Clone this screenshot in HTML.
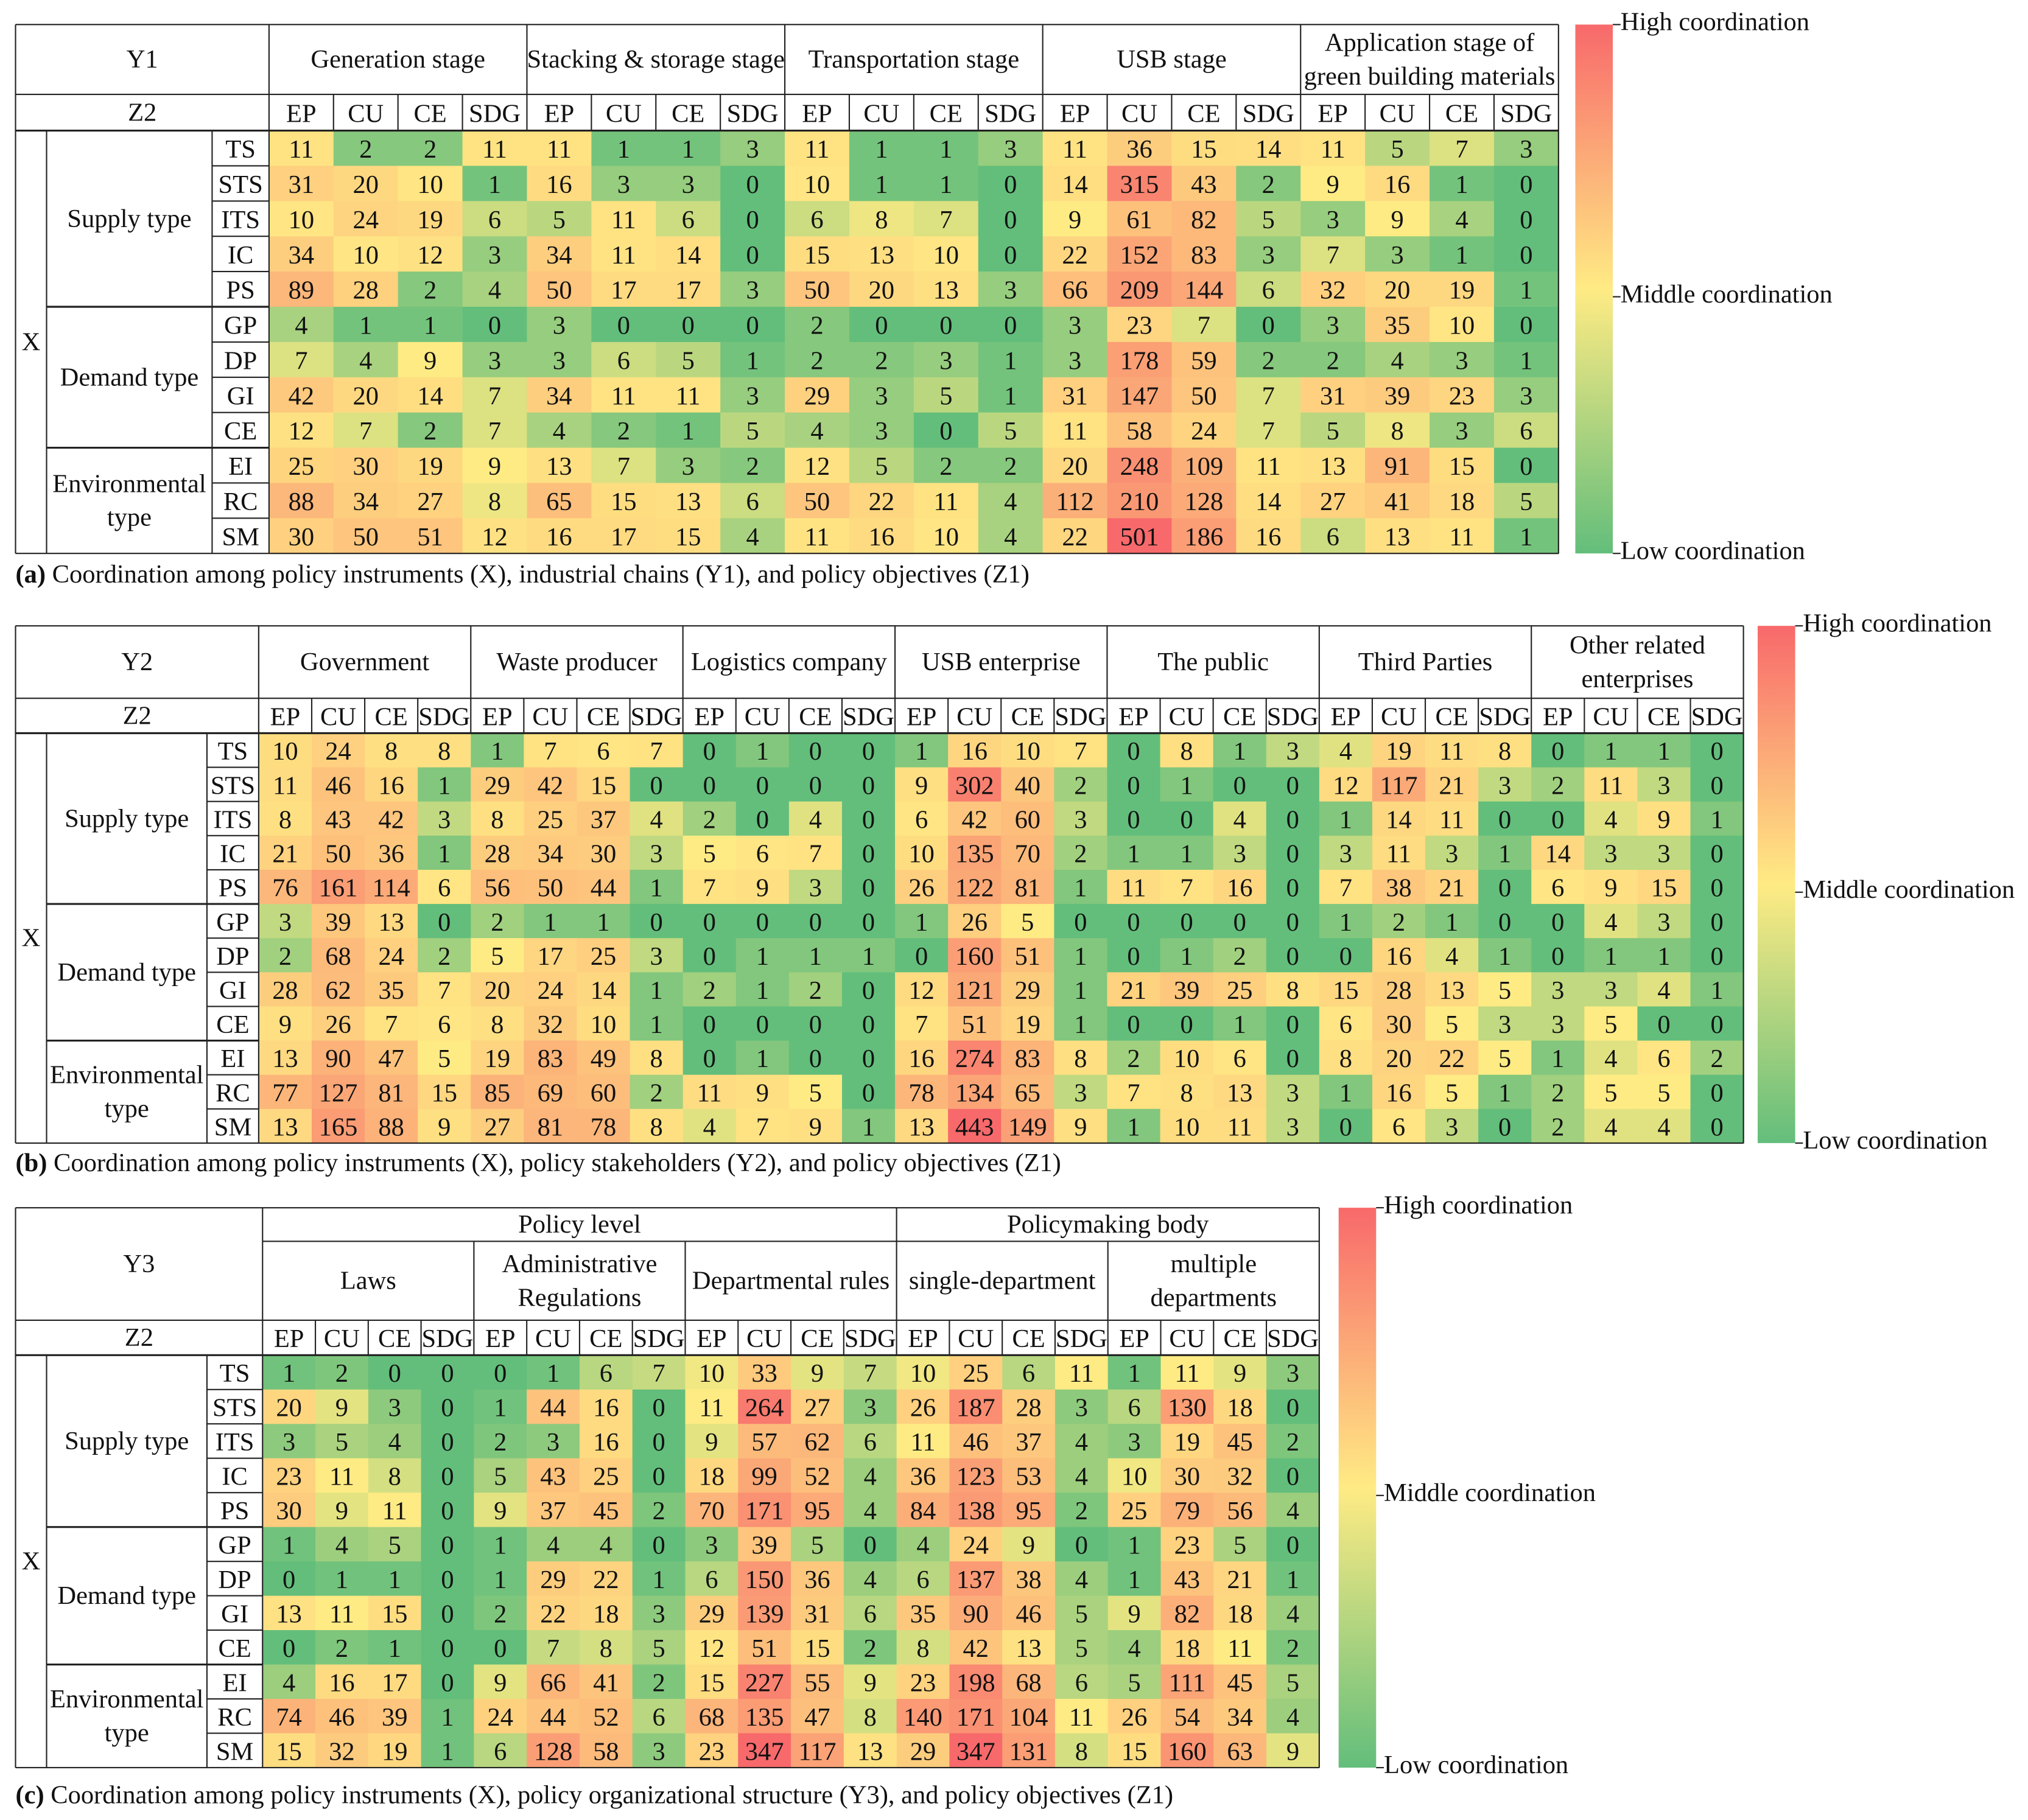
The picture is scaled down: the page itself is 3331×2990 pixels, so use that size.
<!DOCTYPE html>
<html><head><meta charset="utf-8"><style>
html,body{margin:0;padding:0;background:#fff;}
svg{display:block;}
text{font-family:"Liberation Serif","Times New Roman",serif;fill:#111;}
</style></head><body>
<svg id="chart" width="3331" height="2990" viewBox="0 0 1568 1407.5" xmlns="http://www.w3.org/2000/svg">
<defs>
<linearGradient id="lg" x1="0" y1="0" x2="0" y2="1">
<stop offset="0" stop-color="#f8696b"/><stop offset="0.5" stop-color="#ffeb84"/><stop offset="1" stop-color="#63be7b"/>
</linearGradient>
</defs>
</svg>
<script>
const rowCodes=["TS","STS","ITS","IC","PS","GP","DP","GI","CE","EI","RC","SM"];
const subCols=["EP","CU","CE","SDG"];
const rowGroups=[["Supply type"],["Demand type"],["Environmental","type"]];
const rowGroupSizes=[5,4,3];
const groupsA=[["Generation stage"],["Stacking & storage stage"],["Transportation stage"],["USB stage"],["Application stage of","green building materials"]];
const groupsB=[["Government"],["Waste producer"],["Logistics company"],["USB enterprise"],["The public"],["Third Parties"],["Other related","enterprises"]];
const groupsC=[["Laws"],["Administrative","Regulations"],["Departmental rules"],["single-department"],["multiple","departments"]];
const superC=[["Policy level",3],["Policymaking body",2]];
const valuesA=[
[11,2,2,11,11,1,1,3,11,1,1,3,11,36,15,14,11,5,7,3],
[31,20,10,1,16,3,3,0,10,1,1,0,14,315,43,2,9,16,1,0],
[10,24,19,6,5,11,6,0,6,8,7,0,9,61,82,5,3,9,4,0],
[34,10,12,3,34,11,14,0,15,13,10,0,22,152,83,3,7,3,1,0],
[89,28,2,4,50,17,17,3,50,20,13,3,66,209,144,6,32,20,19,1],
[4,1,1,0,3,0,0,0,2,0,0,0,3,23,7,0,3,35,10,0],
[7,4,9,3,3,6,5,1,2,2,3,1,3,178,59,2,2,4,3,1],
[42,20,14,7,34,11,11,3,29,3,5,1,31,147,50,7,31,39,23,3],
[12,7,2,7,4,2,1,5,4,3,0,5,11,58,24,7,5,8,3,6],
[25,30,19,9,13,7,3,2,12,5,2,2,20,248,109,11,13,91,15,0],
[88,34,27,8,65,15,13,6,50,22,11,4,112,210,128,14,27,41,18,5],
[30,50,51,12,16,17,15,4,11,16,10,4,22,501,186,16,6,13,11,1]];
const valuesB=[
[10,24,8,8,1,7,6,7,0,1,0,0,1,16,10,7,0,8,1,3,4,19,11,8,0,1,1,0],
[11,46,16,1,29,42,15,0,0,0,0,0,9,302,40,2,0,1,0,0,12,117,21,3,2,11,3,0],
[8,43,42,3,8,25,37,4,2,0,4,0,6,42,60,3,0,0,4,0,1,14,11,0,0,4,9,1],
[21,50,36,1,28,34,30,3,5,6,7,0,10,135,70,2,1,1,3,0,3,11,3,1,14,3,3,0],
[76,161,114,6,56,50,44,1,7,9,3,0,26,122,81,1,11,7,16,0,7,38,21,0,6,9,15,0],
[3,39,13,0,2,1,1,0,0,0,0,0,1,26,5,0,0,0,0,0,1,2,1,0,0,4,3,0],
[2,68,24,2,5,17,25,3,0,1,1,1,0,160,51,1,0,1,2,0,0,16,4,1,0,1,1,0],
[28,62,35,7,20,24,14,1,2,1,2,0,12,121,29,1,21,39,25,8,15,28,13,5,3,3,4,1],
[9,26,7,6,8,32,10,1,0,0,0,0,7,51,19,1,0,0,1,0,6,30,5,3,3,5,0,0],
[13,90,47,5,19,83,49,8,0,1,0,0,16,274,83,8,2,10,6,0,8,20,22,5,1,4,6,2],
[77,127,81,15,85,69,60,2,11,9,5,0,78,134,65,3,7,8,13,3,1,16,5,1,2,5,5,0],
[13,165,88,9,27,81,78,8,4,7,9,1,13,443,149,9,1,10,11,3,0,6,3,0,2,4,4,0]];
const valuesC=[
[1,2,0,0,0,1,6,7,10,33,9,7,10,25,6,11,1,11,9,3],
[20,9,3,0,1,44,16,0,11,264,27,3,26,187,28,3,6,130,18,0],
[3,5,4,0,2,3,16,0,9,57,62,6,11,46,37,4,3,19,45,2],
[23,11,8,0,5,43,25,0,18,99,52,4,36,123,53,4,10,30,32,0],
[30,9,11,0,9,37,45,2,70,171,95,4,84,138,95,2,25,79,56,4],
[1,4,5,0,1,4,4,0,3,39,5,0,4,24,9,0,1,23,5,0],
[0,1,1,0,1,29,22,1,6,150,36,4,6,137,38,4,1,43,21,1],
[13,11,15,0,2,22,18,3,29,139,31,6,35,90,46,5,9,82,18,4],
[0,2,1,0,0,7,8,5,12,51,15,2,8,42,13,5,4,18,11,2],
[4,16,17,0,9,66,41,2,15,227,55,9,23,198,68,6,5,111,45,5],
[74,46,39,1,24,44,52,6,68,135,47,8,140,171,104,11,26,54,34,4],
[15,32,19,1,6,128,58,3,23,347,117,13,29,347,131,8,15,160,63,9]];

const svg=document.getElementById('chart');
const NS="http://www.w3.org/2000/svg";
function mk(tag,attrs,parent){const e=document.createElementNS(NS,tag);for(const k in attrs)e.setAttribute(k,attrs[k]);(parent||svg).appendChild(e);return e;}
function txt(x,y,s,size,parent,anchor,bold){const t=mk('text',{x:x,y:y,'font-size':size,'text-anchor':anchor||'middle','dominant-baseline':'central'},parent);if(bold)t.setAttribute('font-weight','bold');t.textContent=s;return t;}
function lines(x,yc,arr,size,parent,gap){const g=gap||25;const n=arr.length;arr.forEach((s,i)=>txt(x,yc+(i-(n-1)/2)*g,s,size,parent));}
function ln(x1,y1,x2,y2,parent,w){mk('line',{x1:x1,y1:y1,x2:x2,y2:y2,stroke:'#222','stroke-width':w||1},parent);}
function mix(a,b,t){const pa=[parseInt(a.slice(1,3),16),parseInt(a.slice(3,5),16),parseInt(a.slice(5,7),16)];const pb=[parseInt(b.slice(1,3),16),parseInt(b.slice(3,5),16),parseInt(b.slice(5,7),16)];return 'rgb('+pa.map((v,i)=>Math.round(v+(pb[i]-v)*t)).join(',')+')';}
function colorFn(values){const all=values.flat().slice().sort((a,b)=>a-b);const mid=all[Math.floor(all.length/2)]||1;const mx=all[all.length-1];
 return v=>{if(v<=mid)return mix('#63be7b','#ffeb84',mid?v/mid:1);const t=Math.pow((v-mid)/(mx-mid),0.5);return mix('#ffeb84','#f8696b',t);};}

function drawTable(o){
 const FS=20;
 const g=mk('g',{});
 
 
 const ncols=o.values[0].length;const cw=(o.x1-o.xd)/ncols;const rh=(o.yB-o.yD)/12;
 const col=colorFn(o.values);
 o.values.forEach((row,r)=>row.forEach((v,c)=>{
  const x=o.xd+c*cw,y=o.yD+r*rh;
  const rc=mk('rect',{x:x,y:y,width:cw+0.5,height:rh+0.5,fill:col(v)},g);
  
  
  txt(x+cw/2,y+rh/2+1,String(v),FS,g);
 }));
 const hg=o.yHead;
 ln(o.x0,o.yTop,o.x1,o.yTop,g);ln(o.x0,o.yB,o.x1,o.yB,g);ln(o.x0,o.yTop,o.x0,o.yB,g);ln(o.x1,o.yTop,o.x1,o.yB,g);
 ln(o.x0,o.yZ,o.x1,o.yZ,g);ln(o.x0,o.yD,o.x1,o.yD,g,1.5);ln(o.xd,o.yTop,o.xd,o.yB,g);
 txt((o.x0+o.xd)/2,(o.yTop+o.yZ)/2,o.yLabel,FS,g);
 txt((o.x0+o.xd)/2,(o.yZ+o.yD)/2,'Z2',FS,g);
 if(o.super){ln(o.xd,hg,o.x1,hg,g);let c0=0;o.super.forEach(s=>{const xa=o.xd+c0*4*cw,xb=o.xd+(c0+s[1])*4*cw;txt((xa+xb)/2,(o.yTop+hg)/2,s[0],FS,g);if(c0>0)ln(xa,o.yTop,xa,hg,g);c0+=s[1];});}
 const gTop=o.super?hg:o.yTop;
 o.groups.forEach((gr,i)=>{const xa=o.xd+i*4*cw;if(i>0)ln(xa,gTop,xa,o.yD,g);lines(xa+2*cw,(gTop+o.yZ)/2,gr,FS,g,26);
  subCols.forEach((s,j)=>{const x=xa+j*cw;if(j>0)ln(x,o.yZ,x,o.yD,g);txt(x+cw/2,(o.yZ+o.yD)/2+1,s,FS,g);});});
 ln(o.xG,o.yD,o.xG,o.yB,g);ln(o.xC,o.yD,o.xC,o.yB,g);
 txt((o.x0+o.xG)/2,(o.yD+o.yB)/2,'X',FS,g);
 let r0=0;rowGroupSizes.forEach((n,i)=>{const ya=o.yD+r0*rh,yb=o.yD+(r0+n)*rh;if(i>0)ln(o.xG,ya,o.xd,ya,g,1.5);lines((o.xG+o.xC)/2,(ya+yb)/2,rowGroups[i],FS,g,26);r0+=n;});
 rowCodes.forEach((s,r)=>{const y=o.yD+r*rh;if(r>0)ln(o.xC,y,o.xd,y,g);txt((o.xC+o.xd)/2,y+rh/2+1,s,FS,g);});
 const lx=o.lx;mk('rect',{x:lx,y:o.yTop,width:29,height:o.yB-o.yTop,fill:'url(#lg)'},g);
 [['High coordination',o.yTop],['Middle coordination',(o.yTop+o.yB)/2+6],['Low coordination',o.yB]].forEach(a=>{ln(lx+29,a[1],lx+35,a[1],g);txt(lx+35,a[1]-2,a[0],20,g,'start');});
 const cap=mk('text',{x:12,y:o.capY,'font-size':20,'dominant-baseline':'central'},g);
 
 
 const b=mk('tspan',{'font-weight':'bold'},cap);b.textContent=o.capA;const t2=mk('tspan',{},cap);t2.textContent=' '+o.capB;
}
drawTable({name:'heatmap-a',values:valuesA,groups:groupsA,yLabel:'Y1',x0:12,xG:36,xC:164,xd:208,x1:1205,yTop:19,yZ:73,yD:101,yB:428,lx:1218,capY:444,capA:'(a)',capB:'Coordination among policy instruments (X), industrial chains (Y1), and policy objectives (Z1)'});
drawTable({name:'heatmap-b',values:valuesB,groups:groupsB,yLabel:'Y2',x0:12,xG:36,xC:160,xd:200,x1:1348,yTop:484,yZ:540,yD:567,yB:884,lx:1359,capY:899,capA:'(b)',capB:'Coordination among policy instruments (X), policy stakeholders (Y2), and policy objectives (Z1)'});
drawTable({name:'heatmap-c',values:valuesC,groups:groupsC,super:superC,yHead:960,yLabel:'Y3',x0:12,xG:36,xC:160,xd:203,x1:1020,yTop:934,yZ:1021,yD:1048,yB:1367,lx:1035,capY:1388,capA:'(c)',capB:'Coordination among policy instruments (X), policy organizational structure (Y3), and policy objectives (Z1)'});
</script>
</body></html>
